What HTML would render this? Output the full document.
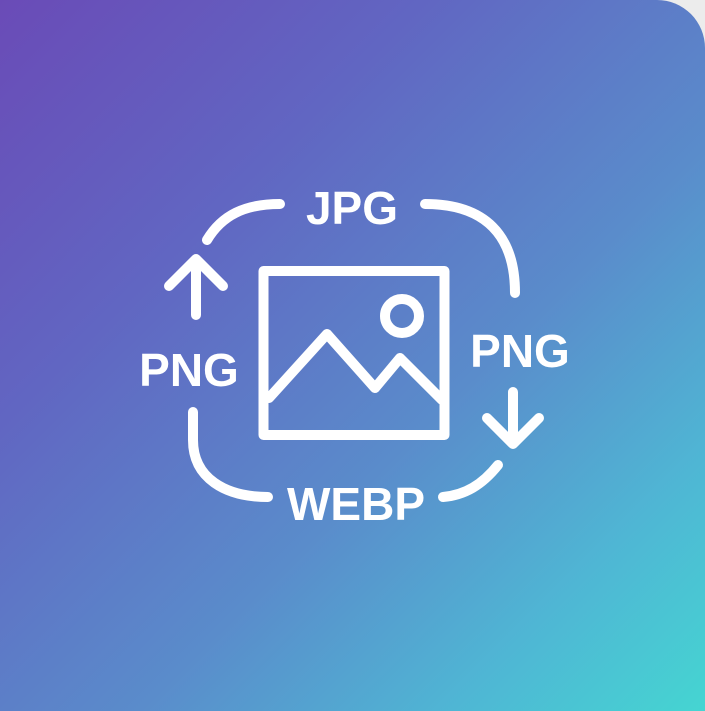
<!DOCTYPE html>
<html><head><style>
html,body{margin:0;padding:0;background:#ececec;}
.bg{position:absolute;left:0;top:0;width:705px;height:711px;border-top-right-radius:48px;
background:linear-gradient(135deg,#6a4bb7 0%,#6166c2 30%,#5a8ccb 60%,#4fb6d4 82%,#45d5d2 100%);}
svg{position:absolute;left:0;top:0;}
text{font-family:"Liberation Sans",sans-serif;font-weight:bold;font-size:46px;fill:#fff;}
</style></head><body>
<div class="bg"></div>
<svg width="705" height="711" viewBox="0 0 705 711">
<g fill="none" stroke="#fff" stroke-width="10" stroke-linecap="round" stroke-linejoin="round">
<path d="M207,240 C222,215 245,204 280,204"/>
<path d="M425,204 C485,204 515,235 515,293"/>
<path d="M196,315 L196,260 M169,286 L196,259 L223,286"/>
<path d="M193,412 L193,440 C193,478 225,497 268,497"/>
<path d="M498,465 C482,485 465,495 443,497"/>
<path d="M513,392 L513,443 M487,418 L513,444 L539,418"/>
<rect x="263.5" y="271" width="181" height="164"/>
<path d="M269,398 L327,334 L375,388 L400,358 L442,400"/>
<circle cx="402" cy="316" r="17"/>
</g>
<text x="352" y="224" text-anchor="middle">JPG</text>
<text x="189" y="386" text-anchor="middle">PNG</text>
<text x="520" y="367" text-anchor="middle">PNG</text>
<text x="356" y="520" text-anchor="middle">WEBP</text>
</svg>
</body></html>
